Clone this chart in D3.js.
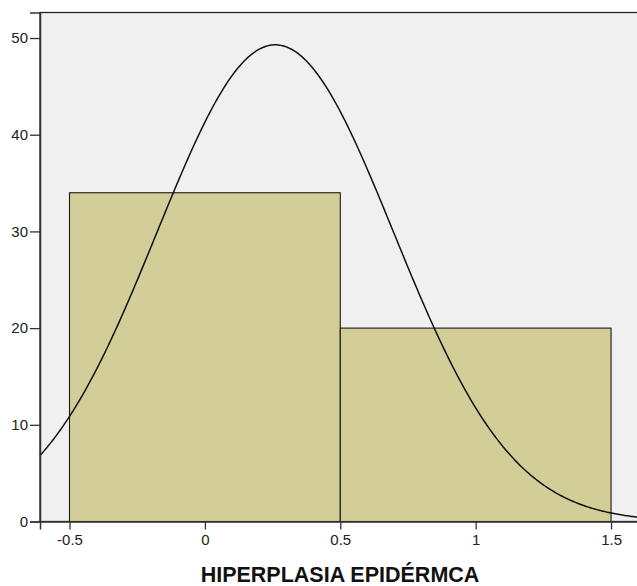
<!DOCTYPE html>
<html>
<head>
<meta charset="utf-8">
<script src="https://cdn.jsdelivr.net/npm/d3@7"></script>
<style>
  body { margin: 0; background: #fff; }
  svg { display: block; font-family: "Liberation Sans", Arial, sans-serif; }
</style>
</head>
<body>
<div id="viz"></div>
<script>
// histogram bins and counts
const binStarts = [-0.5, 0.5];
const binEnds = [0.5, 1.5];
const counts = [34, 20];

// fitted normal curve
const curveMean = 0.26;
const curveSd = 0.437;
const curveN = 54;
const binWidth = 1;

const xTicks = [-0.5, 0, 0.5, 1, 1.5];
const yTicks = [0, 10, 20, 30, 40, 50];
const xTitle = 'HIPERPLASIA EPIDÉRMCA';

const width = 637;
const height = 586;
const margin = {top: 12.5, left: 40, bottom: 64.5, right: -6};

const svg = d3.select('#viz')
  .append('svg')
  .attr('width', width)
  .attr('height', height);

const x = d3.scaleLinear()
  .domain([-0.609, 1.618])
  .range([margin.left, width - margin.right]);

const y = d3.scaleLinear()
  .domain([0, 52.64])
  .range([height - margin.bottom, margin.top]);

// plot background
svg.append('rect')
  .attr('x', margin.left)
  .attr('y', margin.top)
  .attr('width', width - margin.right - margin.left)
  .attr('height', height - margin.bottom - margin.top)
  .attr('fill', '#f0f0f0')
  .attr('stroke', '#222')
  .attr('stroke-width', 1.3);

const bins = binStarts.map((s, i) => ({x0: s, x1: binEnds[i], n: counts[i]}));

svg.append('g')
  .selectAll('rect')
  .data(bins)
  .enter()
  .append('rect')
  .attr('x', d => x(d.x0))
  .attr('y', d => y(d.n))
  .attr('width', d => x(d.x1) - x(d.x0))
  .attr('height', d => y(0) - y(d.n))
  .attr('fill', '#d3ce97')
  .attr('stroke', '#1a1a1a')
  .attr('stroke-width', 1.1);

// normal curve scaled to counts
const pts = d3.range(x.domain()[0], x.domain()[1] + 0.005, 0.005).map(v => {
  const z = (v - curveMean) / curveSd;
  return [v, curveN * binWidth * Math.exp(-z * z / 2) / (curveSd * Math.sqrt(2 * Math.PI))];
});

svg.append('path')
  .datum(pts)
  .attr('fill', 'none')
  .attr('stroke', '#111')
  .attr('stroke-width', 1.5)
  .attr('d', d3.line().x(d => x(d[0])).y(d => y(d[1])));

// axes
const xAxis = svg.append('g')
  .attr('transform', `translate(0,${y(0)})`)
  .call(d3.axisBottom(x).tickValues(xTicks).tickSize(8).tickPadding(5).tickFormat(d => d));
const yAxis = svg.append('g')
  .attr('transform', `translate(${margin.left},0)`)
  .call(d3.axisLeft(y).tickValues(yTicks).tickSize(10).tickPadding(2));

[xAxis, yAxis].forEach(a => {
  a.select('.domain').attr('stroke', '#333').attr('stroke-width', 1.5);
  a.selectAll('.tick line').attr('stroke', '#333').attr('stroke-width', 1.3);
  a.selectAll('.tick text').attr('fill', '#222').style('font-size', '15px');
});

svg.append('text')
  .attr('x', 340)
  .attr('y', 582)
  .attr('text-anchor', 'middle')
  .attr('font-weight', 'bold')
  .attr('font-size', '21.5px')
  .attr('fill', '#111')
  .text(xTitle);
</script>
</body>
</html>
